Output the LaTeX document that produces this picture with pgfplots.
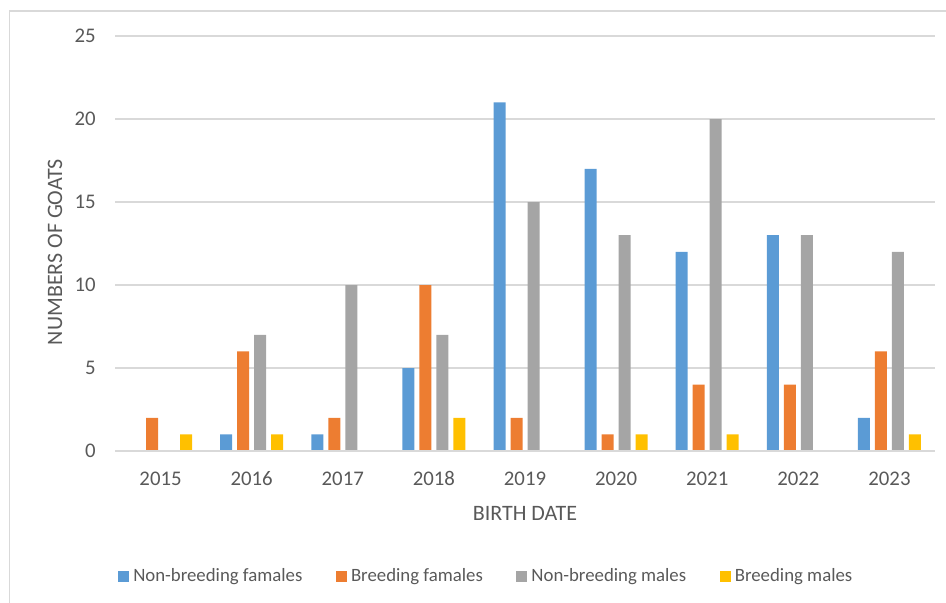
\documentclass[border=0pt]{standalone}
\usepackage{fontspec}
\setmainfont{Carlito}
\usepackage{pgfplots}
\pgfplotsset{compat=1.18}
\usepackage{pgfplotstable}

\definecolor{nbf}{HTML}{5B9BD5}
\definecolor{bf}{HTML}{ED7D31}
\definecolor{nbm}{HTML}{A5A5A5}
\definecolor{bm}{HTML}{FFC000}
\definecolor{gridgray}{HTML}{D9D9D9}
\definecolor{framegray}{HTML}{D9D9D9}
\definecolor{textgray}{HTML}{595959}

% Goats by birth year
\pgfplotstableread{
idx year nbf bf nbm bm
0 2015 0 2 0 1
1 2016 1 6 7 1
2 2017 1 2 10 0
3 2018 5 10 7 2
4 2019 21 2 15 0
5 2020 17 1 13 1
6 2021 12 4 20 1
7 2022 13 4 13 0
8 2023 2 6 12 1
}\goats

\begin{document}
\begin{tikzpicture}
\useasboundingbox (0,0) rectangle (473pt,301pt);
\begin{scope}
  \clip (0,0) rectangle (473pt,301pt);
  \draw[framegray, line width=0.8pt] (4.75pt,-10pt) rectangle (490pt,295.5pt);
\end{scope}
\begin{axis}[
  at={(57.5pt,75.5pt)}, anchor=south west,
  scale only axis, width=410pt, height=207.5pt,
  xmin=-0.5, xmax=8.5, ymin=0, ymax=25,
  ytick={0,5,...,25},
  xtick={0,...,8},
  xticklabels={2015,2016,2017,2018,2019,2020,2021,2022,2023},
  ybar=2.5pt, bar width=6pt,
  ymajorgrids, grid style={gridgray, line width=0.75pt},
  axis line style={draw=none},
  major tick length=0pt,
  /pgf/number format/assume math mode=true,
  tick label style={font=\fontsize{10.4}{12}\selectfont, text=textgray},
  yticklabel style={anchor=east, inner sep=0pt, xshift=-9.5pt},
  xticklabel style={anchor=base, inner sep=0pt, yshift=-17pt},
  xlabel={BIRTH DATE}, ylabel={NUMBERS OF GOATS},
  label style={font=\fontsize{11}{13}\selectfont, text=textgray},
  xlabel style={at={(axis description cs:0.5,-0.1494)}, anchor=center},
  ylabel style={at={(axis description cs:-0.0732,0.4795)}, anchor=center},
  legend columns=4,
  legend image code/.code={\fill[#1] (0pt,-2.75pt) rectangle (5.5pt,2.75pt);},
  legend style={at={(axis description cs:0.454,-0.3012)}, anchor=center,
    draw=none, fill=none, font=\fontsize{9.4}{11}\selectfont, text=textgray,
    /tikz/every even column/.append style={column sep=14.8pt}},
]
\addplot[fill=nbf, draw=none] table[x=idx, y=nbf]{\goats};
\addplot[fill=bf, draw=none] table[x=idx, y=bf]{\goats};
\addplot[fill=nbm, draw=none] table[x=idx, y=nbm]{\goats};
\addplot[fill=bm, draw=none] table[x=idx, y=bm]{\goats};
\draw[gridgray, line width=0.9pt] (rel axis cs:0,0) -- (rel axis cs:1,0);
\legend{Non-breeding famales, Breeding famales, Non-breeding males, Breeding males}
\end{axis}
\end{tikzpicture}
\end{document}
